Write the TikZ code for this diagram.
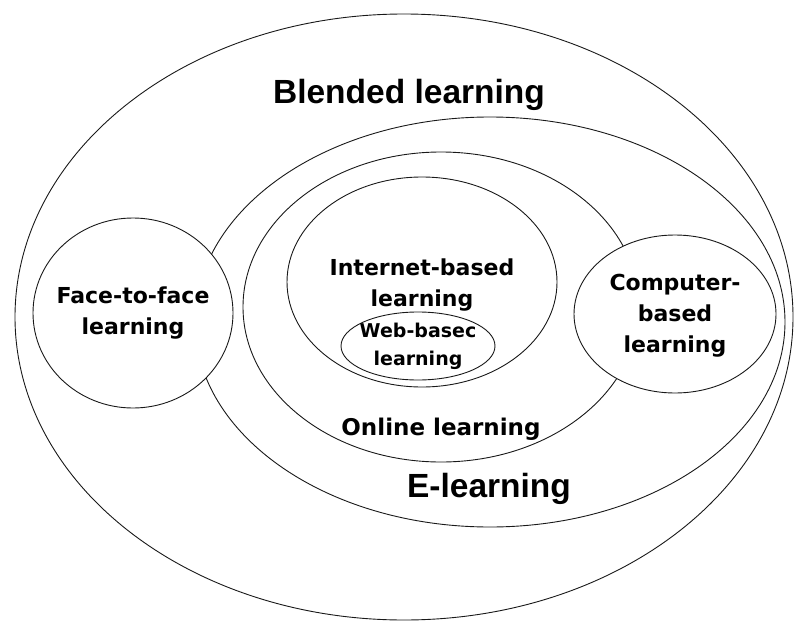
\documentclass[tikz,border=0pt]{standalone}
\usepackage{fontspec}
\setmainfont{Liberation Sans}
\newfontfamily\widefont{DejaVu Sans}
\usetikzlibrary{positioning}
\tikzset{
  zone/.style  = {draw=black!90, line width=0.9pt},
  inner/.style = {zone, fill=white},
  title/.style = {font=\fontsize{33.5}{38}\selectfont\bfseries, anchor=base},
  tag/.style   = {font=\widefont\fontsize{22}{31}\selectfont\bfseries, align=center, inner sep=0pt}
}

\begin{document}
\begin{tikzpicture}[x=1pt, y=-1pt]
  \useasboundingbox (0,0) rectangle (794,623);
  % centres of the sets
  \coordinate (blended)  at (404,317);
  \coordinate (elearn)   at (490,322);
  \coordinate (online)   at (441,307);
  \coordinate (internet) at (422,282);
  \coordinate (web)      at (418,346);
  \coordinate (face)     at (133,313);
  \coordinate (computer) at (675,314);

  % nested sets
  \draw[zone] (blended)  ellipse [x radius=389pt, y radius=303pt];
  \draw[zone] (elearn)   ellipse [x radius=295pt, y radius=205pt];
  \draw[zone] (online)   ellipse [x radius=198pt, y radius=155pt];
  \draw[zone] (internet) ellipse [x radius=135pt, y radius=105pt];
  \draw[zone] (web)      ellipse [x radius=77pt,  y radius=34pt];
  % the two sets lying on the e-learning border
  \draw[inner] (face)     ellipse [x radius=100pt, y radius=95pt];
  \draw[inner] (computer) ellipse [x radius=101pt, y radius=79pt];

  % labels
  \node[title] (lblend)  at (409,103) {Blended learning};
  \node[title] (lelearn) at (489,497) {E-learning};
  \node[tag, anchor=base, font=\widefont\fontsize{23}{31}\selectfont\bfseries] (lonline) at (441,435) {Online learning};
  \node[tag] (linternet) at (422,285) {Internet-based\\learning};
  \node[tag, font=\widefont\fontsize{19}{28}\selectfont\bfseries] (lweb) at (418,346) {Web-basec\\learning};
  \node[tag] (lface)     at (133,313) {Face-to-face\\learning};
  \node[tag] (lcomputer) at (675,316) {Computer-\\based\\learning};
\end{tikzpicture}
\end{document}
